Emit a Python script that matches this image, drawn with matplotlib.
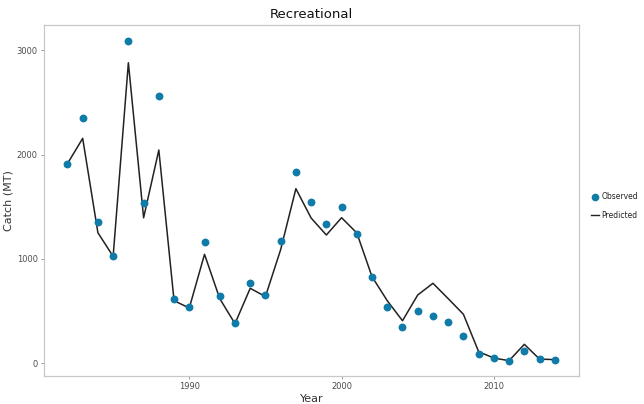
import matplotlib
matplotlib.use("Agg")
import matplotlib.pyplot as plt
from matplotlib.lines import Line2D

years = list(range(1982, 2015))
observed = [1914, 2352, 1358, 1025, 3087, 1534, 2560, 619, 537, 1160, 645, 389,
            770, 658, 1173, 1831, 1549, 1336, 1501, 1243, 825, 540, 345, 501,
            453, 393, 262, 86, 48, 25, 115, 38, 29]
predicted = [1914, 2157, 1252, 1025, 2882, 1395, 2045, 600, 530, 1045, 620, 380,
             719, 640, 1090, 1674, 1393, 1230, 1396, 1250, 830, 600, 408, 655,
             767, 620, 470, 111, 50, 25, 182, 40, 35]
xticks = [1990, 2000, 2010]
yticks = [0, 1000, 2000, 3000]

point_color = "#0F7BA8"
frame_color = "#C8C8C8"
text_color = "#4D4D4D"

fig = plt.figure(figsize=(6.44, 4.04), dpi=100)
ax = fig.add_axes([44/644, 28/404, (579-44)/644, (376-25)/404])

ax.plot(years, predicted, color="#222222", lw=1.1, zorder=2)
ax.scatter(years, observed, s=32, color=point_color, zorder=3, linewidths=0)

ax.set_xlim(1980.46, 2015.59)
ax.set_ylim(-122, 3244)
ax.set_xticks(xticks)
ax.set_yticks(yticks)
ax.tick_params(axis="both", labelsize=6, colors=text_color, length=2.5, width=0.6,
               color="#888888", pad=2)
for sp in ax.spines.values():
    sp.set_color(frame_color)
    sp.set_linewidth(0.9)

ax.set_title("Recreational", fontsize=9.5, color="#111111", pad=5)
ax.set_xlabel("Year", fontsize=8, color="#333333", labelpad=2)
ax.set_ylabel("Catch (MT)", fontsize=8, color="#333333", labelpad=2)

handles = [
    Line2D([], [], marker="o", ls="none", color=point_color, markersize=4.5),
    Line2D([], [], color="#222222", lw=1.0),
]
leg = fig.legend(handles, ["Observed", "Predicted"], loc="center left",
                 bbox_to_anchor=(591/644, 0.49), frameon=False, fontsize=5.5,
                 handlelength=1.0, handletextpad=0.4, labelspacing=1.25,
                 borderaxespad=0, borderpad=0)
for t in leg.get_texts():
    t.set_color("#222222")

fig.savefig("out.png", dpi=100, facecolor="white")
